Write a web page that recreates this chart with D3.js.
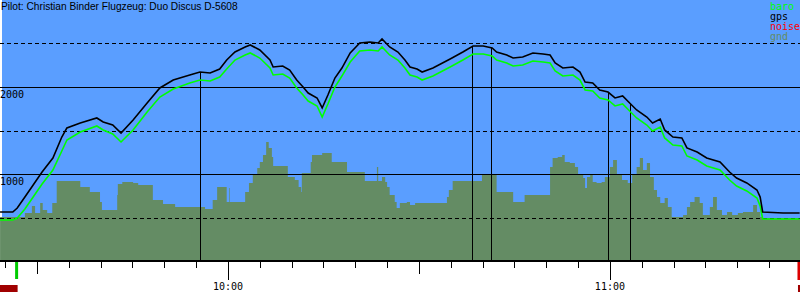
<!DOCTYPE html>
<html>
<head>
<meta charset="utf-8">
<script src="https://cdn.jsdelivr.net/npm/d3@7"></script>
<style>
  body { margin: 0; background: #fff; }
  svg { display: block; }
  .mono { font-family: "DejaVu Sans Mono", monospace; font-size: 10px; }
</style>
</head>
<body>
<script>
// times are minutes after 09:00, altitudes in metres
const gpsMin = [24.2,26.2,26.9,28.1,29.4,30.8,32.5,33.9,34.7,36.8,39.4,40.4,41.9,43.2,45.1,47.3,49.3,51.4,54.0,55.6,57.2,58.7,59.8,61.1,62.7,63.5,65.0,66.6,67.1,68.6,69.7,70.8,71.8,72.6,74.0,74.8,75.7,76.8,77.9,79.2,80.7,82.3,83.6,84.2,85.4,86.7,87.8,88.6,89.7,90.5,92.2,94.9,96.9,98.5,100.1,101.5,102.2,103.8,104.8,106.3,107.9,109.5,110.6,111.4,112.6,114.2,115.3,116.1,117.3,118.4,119.7,120.8,122.0,123.1,124.2,125.8,126.7,127.9,128.6,129.9,131.3,132.1,133.7,135.2,137.3,138.8,139.9,141.5,143.1,143.6,144.0,147.2,149.8]
const gpsAlt = [563,563,609,736,874,1023,1184,1425,1529,1586,1644,1598,1563,1471,1621,1816,1989,2080,2138,2172,2161,2207,2310,2402,2460,2483,2425,2310,2230,2241,2195,2080,2000,1931,1874,1759,1908,2103,2218,2391,2506,2517,2506,2552,2460,2402,2310,2230,2207,2172,2218,2322,2402,2471,2471,2448,2402,2368,2333,2345,2391,2379,2368,2276,2218,2230,2172,2057,2046,1965,1942,1874,1897,1816,1736,1655,1586,1632,1506,1425,1414,1299,1253,1184,1138,1023,954,897,816,736,563,552,552]
const baroAlt = [471,471,494,598,736,885,1046,1264,1391,1483,1552,1506,1460,1368,1506,1712,1885,1977,2046,2080,2069,2115,2207,2310,2368,2391,2333,2218,2138,2149,2103,1989,1908,1839,1782,1655,1805,2000,2126,2287,2414,2425,2414,2460,2368,2310,2218,2138,2115,2080,2126,2230,2310,2379,2379,2356,2310,2276,2241,2253,2299,2287,2276,2184,2126,2138,2080,1966,1954,1874,1851,1782,1805,1724,1644,1563,1494,1540,1414,1333,1322,1207,1161,1092,1046,931,862,805,724,632,483,483,483]

const gndMin = [24.2,28.1,29.2,29.7,30.5,30.9,31.6,32.4,33.1,36.8,38.3,39.9,40.2,42.6,42.7,43.4,45.1,45.9,48.2,49.8,51.7,56.4,57.6,58.3,59.8,60.2,60.3,62.7,63.3,63.9,64.6,65.0,65.5,66.0,66.4,66.9,67.1,69.4,70.5,71.1,71.5,71.6,73.0,73.2,74.8,76.3,78.7,81.5,83.4,83.6,84.2,84.7,85.0,85.4,86.2,86.5,87.0,88.1,88.6,89.4,94.4,94.7,95.3,99.9,102.2,104.8,106.6,110.6,111.0,111.8,112.5,112.9,113.7,114.5,115.0,115.8,116.1,116.4,116.9,117.3,117.9,118.7,119.2,120.0,120.5,121.1,121.9,122.8,123.5,124.2,124.7,125.2,125.8,126.3,126.9,127.4,127.9,128.6,129.1,129.7,131.5,132.1,132.6,133.3,134.1,134.6,135.7,136.2,136.8,137.6,138.4,139.2,140.1,140.9,142.5,143.1,143.6,144.0,149.9]
const gndAlt = [506,552,632,552,667,586,552,667,920,851,793,678,586,759,885,908,897,874,701,655,621,598,701,851,678,839,678,793,897,1000,1069,1138,1218,1368,1299,1195,1092,966,931,851,793,1011,1138,1218,1241,1138,1023,920,1080,920,966,908,851,759,678,609,667,678,644,667,736,816,920,989,793,678,759,1080,1184,1195,1218,1138,1126,1080,989,954,839,966,989,908,897,908,966,1080,1161,989,931,897,989,1080,1184,1046,1126,966,816,736,667,724,621,506,529,621,678,736,667,529,621,736,586,529,563,529,552,563,644,563,506,494,494]

const markerMin = [55.6, 98.3, 101.3, 119.7, 123.1]
const takeoffMin = 26.8, landingMin = 149.7
const gridAlt = [500, 1000, 1500, 2000, 2500]
const labelAlt = [1000, 2000]
const legend = [['baro', '#00ff00'], ['gps', '#000'], ['noise', '#ff0000'], ['gnd', '#648c64']]
const title = 'Pilot: Christian Binder Flugzeug: Duo Discus D-5608'

const width = 800, height = 300
const base = new Date(2000, 0, 1, 9, 0)
const toDate = m => new Date(+base + m * 60000)

let x = d3.scaleTime()
    .domain([toDate(24.19), toDate(149.86)])
    .range([0, width])
let y = d3.scaleLinear()
    .domain([0, 3000])
    .range([261, 0])

let svg = d3.select('body').append('svg')
    .attr('width', width)
    .attr('height', height)

svg.append('rect')
    .attr('x', 2).attr('y', 0)
    .attr('width', width - 2).attr('height', y(0))
    .attr('fill', '#5a9eff')

// ground profile
let gnd = gndMin.map((m, i) => ({t: toDate(m), v: gndAlt[i]}))
svg.append('path')
    .datum(gnd)
    .attr('fill', '#648c64')
    .attr('d', d3.area().curve(d3.curveStepAfter)
        .x(d => x(d.t)).y0(y(0)).y1(d => y(d.v)))

// grid
svg.selectAll('.grid')
    .data(gridAlt).enter()
    .append('line')
    .attr('x1', 0).attr('x2', width)
    .attr('y1', d => Math.round(y(d)) + 0.5)
    .attr('y2', d => Math.round(y(d)) + 0.5)
    .attr('stroke', '#000')
    .attr('stroke-dasharray', d => d % 1000 ? '4,3' : null)

svg.selectAll('.ylab')
    .data(labelAlt).enter()
    .append('text')
    .attr('class', 'mono')
    .attr('x', 0)
    .attr('y', d => y(d) + 11)
    .text(d => d)

let gps = gpsMin.map((m, i) => ({t: toDate(m), v: gpsAlt[i]}))
let baro = gpsMin.map((m, i) => ({t: toDate(m), v: baroAlt[i]}))

// markers from gps trace down to the axis
const gpsAt = m => {
    let i = d3.bisectLeft(gpsMin, m)
    let k = (m - gpsMin[i - 1]) / (gpsMin[i] - gpsMin[i - 1])
    return gpsAlt[i - 1] + k * (gpsAlt[i] - gpsAlt[i - 1])
}
svg.selectAll('.marker')
    .data(markerMin).enter()
    .append('line')
    .attr('x1', d => Math.round(x(toDate(d))) + 0.5)
    .attr('x2', d => Math.round(x(toDate(d))) + 0.5)
    .attr('y1', d => y(gpsAt(d)))
    .attr('y2', y(0))
    .attr('stroke', '#000')

let line = d3.line().x(d => x(d.t)).y(d => y(d.v))
svg.append('path').datum(baro)
    .attr('fill', 'none').attr('stroke', '#00ff00').attr('stroke-width', 1.6)
    .attr('d', line)
svg.append('path').datum(gps)
    .attr('fill', 'none').attr('stroke', '#000').attr('stroke-width', 1.6)
    .attr('d', line)

// time axis
svg.append('line')
    .attr('x1', 0).attr('x2', width)
    .attr('y1', y(0)).attr('y2', y(0))
    .attr('stroke', '#000').attr('stroke-width', 2)

let ticks = x.ticks(d3.timeMinute.every(5))
svg.selectAll('.tick')
    .data(ticks).enter()
    .append('line')
    .attr('x1', d => Math.round(x(d)) + 0.5)
    .attr('x2', d => Math.round(x(d)) + 0.5)
    .attr('y1', y(0))
    .attr('y2', d => d.getMinutes() === 0 ? 280 : d.getMinutes() === 30 ? 274 : 268)
    .attr('stroke', '#000')

svg.selectAll('.xlab')
    .data(ticks.filter(d => d.getMinutes() === 0)).enter()
    .append('text')
    .attr('class', 'mono')
    .attr('x', d => x(d))
    .attr('y', 290)
    .attr('text-anchor', 'middle')
    .text(d3.timeFormat('%H:%M'))

// takeoff / landing
svg.append('rect')
    .attr('x', x(toDate(takeoffMin)) - 1.5).attr('y', 262)
    .attr('width', 3).attr('height', 17)
    .attr('fill', '#00cc00')
svg.append('rect')
    .attr('x', x(toDate(landingMin)) - 1.5).attr('y', 262)
    .attr('width', 3).attr('height', 18)
    .attr('fill', '#dd0000')
svg.append('rect')
    .attr('x', 0).attr('y', 285)
    .attr('width', x(toDate(takeoffMin)) + 1).attr('height', 7)
    .attr('fill', '#a00000')
svg.append('rect')
    .attr('x', x(toDate(landingMin)) - 1).attr('y', 285)
    .attr('width', width - x(toDate(landingMin)) + 1).attr('height', 7)
    .attr('fill', '#a00000')

svg.append('text')
    .attr('x', 1).attr('y', 10)
    .attr('font-family', 'Liberation Sans, Arial, sans-serif')
    .attr('font-size', 10.2)
    .text(title)

svg.selectAll('.legend')
    .data(legend).enter()
    .append('text')
    .attr('class', 'mono')
    .attr('x', 770)
    .attr('y', (d, i) => 10 + i * 10)
    .attr('fill', d => d[1])
    .text(d => d[0])
</script>
</body>
</html>
